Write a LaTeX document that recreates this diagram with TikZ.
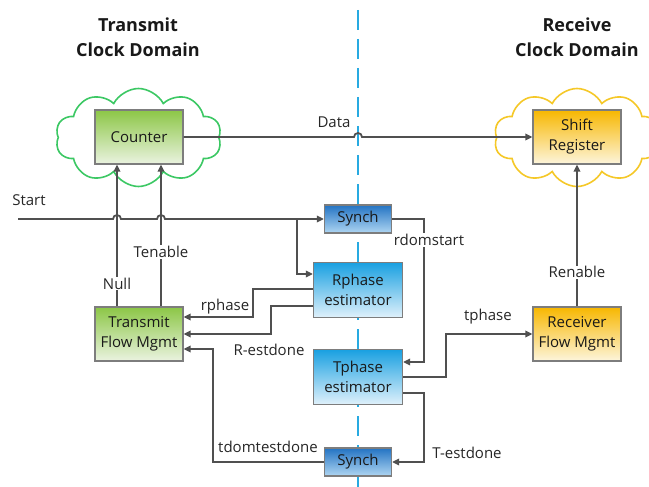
\documentclass[tikz,border=0pt]{standalone}
\usepackage{fontspec}
\setmainfont{Open Sans}
\definecolor{wiregray}{RGB}{80, 80, 80}
\definecolor{boxgray}{RGB}{125, 125, 125}
\definecolor{txgreen}{RGB}{140, 198, 70}
\definecolor{txgreenlt}{RGB}{234, 243, 224}
\definecolor{rxgold}{RGB}{247, 183, 0}
\definecolor{rxgoldlt}{RGB}{253, 245, 220}
\definecolor{estblue}{RGB}{25, 160, 225}
\definecolor{estbluelt}{RGB}{224, 241, 251}
\definecolor{synblue}{RGB}{35, 115, 195}
\definecolor{synbluelt}{RGB}{175, 214, 242}
\definecolor{cloudgreen}{RGB}{60, 200, 100}
\definecolor{cloudgold}{RGB}{245, 200, 40}
\definecolor{domainblue}{RGB}{40, 170, 225}
\usepackage{tikz}
\usetikzlibrary{shapes, arrows.meta, positioning, calc}

\begin{document}
\begin{tikzpicture}[x=1pt, y=-1pt,
  font=\fontsize{15}{20}\selectfont,
  blockbox/.style={draw=boxgray, line width=1.2pt, align=center, text=black!90, inner sep=0pt},
  txbox/.style={blockbox, top color=txgreen, bottom color=txgreenlt, minimum width=88pt, minimum height=54pt},
  rxbox/.style={blockbox, top color=rxgold, bottom color=rxgoldlt, minimum width=88pt, minimum height=54pt},
  estbox/.style={blockbox, top color=estblue, bottom color=estbluelt, minimum width=89pt, minimum height=55pt},
  synbox/.style={blockbox, top color=synblue, bottom color=synbluelt, minimum width=67pt, minimum height=28pt},
  domaincloud/.style={cloud, cloud puffs=10, cloud puff arc=125, aspect=1.7, fill=white, line width=1.6pt, minimum width=166pt, minimum height=98pt},
  wire/.style={draw=wiregray, line width=1.8pt},
  tip/.style={-{Triangle[length=7pt, width=6.5pt]}},
  sig/.style={text=black!85, inner sep=1pt},
  cut/.style={sig, fill=white},
  domtitle/.style={font=\bfseries\fontsize{18}{25}\selectfont, align=center, text=black!90},
]
  \useasboundingbox (0,0) rectangle (649,487);

  % domain border
  \coordinate (divtop) at (358,10);
  \coordinate (divbot) at (358,487);
  \draw[domainblue, line width=2.5pt, dash pattern=on 20pt off 9pt] (divtop) -- (divbot);

  \node[domtitle] (txtitle) at (138,37) {Transmit\\Clock Domain};
  \node[domtitle] (rxtitle) at (577,37) {Receive\\Clock Domain};

  \node[domaincloud, draw=cloudgreen] (txcloud) at (138.5,137.5) {};
  \node[domaincloud, draw=cloudgold] (rxcloud) at (577,137.5) {};

  % blocks
  \node[txbox] (counter) at (139,137) {Counter};
  \node[rxbox] (shiftreg) at (577,137) {Shift\\Register};
  \node[txbox] (tfm) at (139,334) {Transmit\\Flow Mgmt};
  \node[rxbox] (rfm) at (577,334) {Receiver\\Flow Mgmt};
  \node[synbox] (synchA) at (358,219) {Synch};
  \node[estbox] (rphase) at (358,290) {Rphase\\estimator};
  \node[estbox] (tphase) at (358,377) {Tphase\\estimator};
  \node[synbox] (synchB) at (358,462) {Synch};

  % data path
  \draw[wire, tip] (counter.east) -- ([xshift=-4pt]divtop |- counter.east)
    arc[start angle=180, end angle=0, radius=4pt] -- (shiftreg.west);
  \node[sig] (datalbl) at (334,122) {Data};

  % start and enables
  \coordinate (start) at (18,219);
  \coordinate (fork) at (297,219);
  \node[sig] (startlbl) at (29,200) {Start};
  \draw[wire, tip] (start) -- ([xshift=-26pt]counter.south |- start)
    arc[start angle=180, end angle=0, radius=4pt] -- ([xshift=18pt]counter.south |- start)
    arc[start angle=180, end angle=0, radius=4pt] -- (fork) -- (synchA.west);
  \draw[wire, tip] (fork) |- ([yshift=16pt]rphase.west);
  \draw[wire, tip] ([xshift=-22pt]tfm.north) -- ([xshift=-22pt]counter.south)
    node[cut, pos=0.16] {Null};
  \draw[wire, tip] ([xshift=22pt]tfm.north) -- ([xshift=22pt]counter.south)
    node[cut, pos=0.385] {Tenable};
  \draw[wire, tip] (rfm.north) -- (shiftreg.south)
    node[cut, pos=0.24] {Renable};

  % estimator handshakes
  \draw[wire, tip] ([yshift=1pt]rphase.west) -- ++(-60,0) |- ([yshift=17pt]tfm.east);
  \node[sig] (rphaselbl) at (225,307) {rphase};
  \draw[wire, tip] ([yshift=-16pt]rphase.west) -- ++(-42,0) |- (tfm.east);
  \node[sig] (restlbl) at (269,350) {R-estdone};
  \draw[wire, tip] (synchB.west) -- ++(-111,0) |- ([yshift=-15pt]tfm.east);
  \node[sig] (tdomlbl) at (268,447) {tdomtestdone};
  \draw[wire, tip] (synchA.east) -- ++(32,0) |- ([yshift=15pt]tphase.east);
  \node[cut] (rdomlbl) at (429,240) {rdomstart};
  \draw[wire, tip] (tphase.east) -- ++(43,0) |- (rfm.west);
  \node[sig] (tphaselbl) at (488,317) {tphase};
  \draw[wire, tip] ([yshift=-16pt]tphase.east) -- ++(21,0) |- (synchB.east);
  \node[sig] (testlbl) at (467,453) {T-estdone};
\end{tikzpicture}
\end{document}
